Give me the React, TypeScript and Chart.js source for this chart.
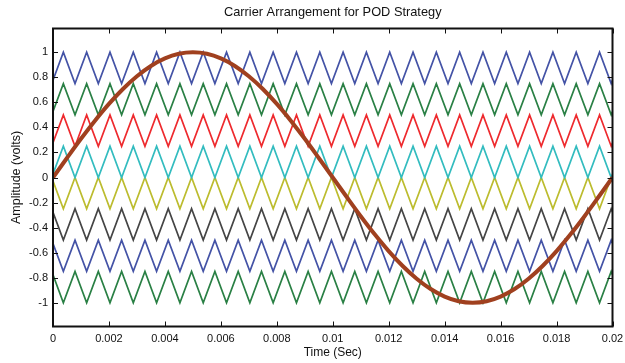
import React, { useEffect, useRef } from "react";
import { Chart, registerables } from "chart.js";

Chart.register(...registerables);

const chartTitle = "Carrier Arrangement for POD Strategy";
const xAxisTitle = "Time (Sec)";
const yAxisTitle = "Amplitude (volts)";

const xTickValues = [0, 0.002, 0.004, 0.006, 0.008, 0.01, 0.012, 0.014, 0.016, 0.018, 0.02];
const xTickLabels = ["0", "0.002", "0.004", "0.006", "0.008", "0.01", "0.012", "0.014", "0.016", "0.018", "0.02"];
const yTickValues = [1, 0.8, 0.6, 0.4, 0.2, 0, -0.2, -0.4, -0.6, -0.8, -1];
const yTickLabels = ["1", "0.8", "0.6", "0.4", "0.2", "0", "-0.2", "-0.4", "-0.6", "-0.8", "-1"];

// Carrier vertex times (s): start, alternating peak/trough of the upper carriers, end
const vertexTimes = [
  0,
  0.00037, 0.000787, 0.001203, 0.00162, 0.002037, 0.002453, 0.00287, 0.003287,
  0.003703, 0.00412, 0.004537, 0.004953, 0.00537, 0.005787, 0.006203, 0.00662,
  0.007037, 0.007453, 0.00787, 0.008287, 0.008703, 0.00912, 0.009537, 0.009953,
  0.01037, 0.010787, 0.011203, 0.01162, 0.012037, 0.012453, 0.01287, 0.013287,
  0.013703, 0.01412, 0.014537, 0.014953, 0.01537, 0.015787, 0.016203, 0.01662,
  0.017037, 0.017453, 0.01787, 0.018287, 0.018703, 0.01912, 0.019537, 0.019953,
  0.02,
];

// Position inside each carrier's band (0 = band bottom, 1 = band top)
const upperShape = [
  0.11,
  1, 0, 1, 0, 1, 0, 1, 0,
  1, 0, 1, 0, 1, 0, 1, 0,
  1, 0, 1, 0, 1, 0, 1, 0,
  1, 0, 1, 0, 1, 0, 1, 0,
  1, 0, 1, 0, 1, 0, 1, 0,
  1, 0, 1, 0, 1, 0, 1, 0,
  0.11,
];
const lowerShape = [
  0.89,
  0, 1, 0, 1, 0, 1, 0, 1,
  0, 1, 0, 1, 0, 1, 0, 1,
  0, 1, 0, 1, 0, 1, 0, 1,
  0, 1, 0, 1, 0, 1, 0, 1,
  0, 1, 0, 1, 0, 1, 0, 1,
  0, 1, 0, 1, 0, 1, 0, 1,
  0.89,
];

const carrierBottoms = [0.75, 0.5, 0.25, 0, -0.25, -0.5, -0.75, -1];
const carrierBandHeight = 0.25;
const carrierInPhaseGroup = ["upper", "upper", "upper", "upper", "lower", "lower", "lower", "lower"];
const carrierColors = ["#4453a6", "#2a8045", "#ee2a2e", "#33bcbf", "#bcbc2e", "#454545", "#4453a6", "#2a8045"];

// Reference (modulating) wave
const refTimes = [
  0, 0.0005, 0.001, 0.0015, 0.002, 0.0025, 0.003, 0.0035, 0.004, 0.0045,
  0.005, 0.0055, 0.006, 0.0065, 0.007, 0.0075, 0.008, 0.0085, 0.009, 0.0095,
  0.01, 0.0105, 0.011, 0.0115, 0.012, 0.0125, 0.013, 0.0135, 0.014, 0.0145,
  0.015, 0.0155, 0.016, 0.0165, 0.017, 0.0175, 0.018, 0.0185, 0.019, 0.0195,
  0.02,
];
const refValues = [
  0, 0.156, 0.309, 0.454, 0.588, 0.707, 0.809, 0.891, 0.951, 0.988,
  1, 0.988, 0.951, 0.891, 0.809, 0.707, 0.588, 0.454, 0.309, 0.156,
  0, -0.156, -0.309, -0.454, -0.588, -0.707, -0.809, -0.891, -0.951, -0.988,
  -1, -0.988, -0.951, -0.891, -0.809, -0.707, -0.588, -0.454, -0.309, -0.156,
  0,
];
const refColor = "#a0401f";

const FONT = "'Liberation Sans', Arial, sans-serif";

const boxPlugin = {
  id: "matlabBox",
  afterDatasetsDraw(chart: any) {
    const { ctx, chartArea: a, scales } = chart;
    ctx.save();
    ctx.strokeStyle = "#111";
    ctx.lineWidth = 1;
    const tl = 5;
    ctx.beginPath();
    for (const v of xTickValues) {
      const px = Math.round(scales.x.getPixelForValue(v)) + 0.5;
      ctx.moveTo(px, a.bottom);
      ctx.lineTo(px, a.bottom - tl);
      ctx.moveTo(px, a.top);
      ctx.lineTo(px, a.top + tl);
    }
    for (const v of yTickValues) {
      const py = Math.round(scales.y.getPixelForValue(v)) + 0.5;
      ctx.moveTo(a.left, py);
      ctx.lineTo(a.left + tl, py);
      ctx.moveTo(a.right, py);
      ctx.lineTo(a.right - tl, py);
    }
    ctx.stroke();
    ctx.lineWidth = 2;
    ctx.strokeStyle = "#111";
    ctx.strokeRect(a.left, a.top, a.right - a.left, a.bottom - a.top);

    ctx.fillStyle = "#111";
    ctx.textAlign = "center";
    ctx.textBaseline = "middle";
    ctx.font = `12.8px ${FONT}`;
    ctx.fillText(chartTitle, (a.left + a.right) / 2, 12);
    ctx.font = `12px ${FONT}`;
    ctx.fillText(xAxisTitle, (a.left + a.right) / 2, 353);
    ctx.translate(17, (a.top + a.bottom) / 2);
    ctx.rotate(-Math.PI / 2);
    ctx.font = `12.5px ${FONT}`;
    ctx.fillText(yAxisTitle, 0, 0);
    ctx.restore();
  },
};

export default function App() {
  const ref = useRef<HTMLCanvasElement | null>(null);

  useEffect(() => {
    if (!ref.current) return;

    const carrierDatasets = carrierBottoms.map((bottom, i) => {
      const shape = carrierInPhaseGroup[i] === "upper" ? upperShape : lowerShape;
      return {
        label: `Carrier ${i + 1}`,
        data: vertexTimes.map((t, j) => ({ x: t, y: bottom + carrierBandHeight * shape[j] })),
        borderColor: carrierColors[i],
        borderWidth: 1.7,
        pointRadius: 0,
        fill: false,
        tension: 0,
      };
    });

    const refDataset = {
      label: "Reference",
      data: refTimes.map((t, j) => ({ x: t, y: refValues[j] })),
      borderColor: refColor,
      borderWidth: 4,
      pointRadius: 0,
      fill: false,
      cubicInterpolationMode: "monotone" as const,
    };

    const chart = new Chart(ref.current, {
      type: "line",
      data: { datasets: [refDataset, ...carrierDatasets] as any },
      options: {
        animation: false,
        responsive: false,
        devicePixelRatio: 1,
        layout: { padding: { top: 28.5, right: 12.5, left: 0, bottom: 0 } },
        plugins: { legend: { display: false }, tooltip: { enabled: false }, title: { display: false } },
        scales: {
          x: {
            type: "linear",
            min: 0,
            max: 0.02,
            grid: { display: false, drawTicks: false, tickLength: 0 },
            border: { display: false },
            afterBuildTicks: (s: any) => {
              s.ticks = xTickValues.map((v) => ({ value: v }));
            },
            afterFit: (s: any) => {
              s.height = 363 - 326.5;
              s.paddingLeft = 0;
              s.paddingRight = 0;
            },
            ticks: {
              autoSkip: false,
              maxRotation: 0,
              padding: 6,
              color: "#111",
              font: { family: FONT, size: 11 },
              callback: (_v: any, i: number) => xTickLabels[i],
            },
          },
          y: {
            type: "linear",
            min: -1.19,
            max: 1.19,
            grid: { display: false, drawTicks: false, tickLength: 0 },
            border: { display: false },
            afterBuildTicks: (s: any) => {
              s.ticks = yTickValues.map((v) => ({ value: v }));
            },
            afterFit: (s: any) => {
              s.width = 53;
              s.paddingTop = 0;
              s.paddingBottom = 0;
            },
            ticks: {
              autoSkip: false,
              padding: 5,
              color: "#111",
              font: { family: FONT, size: 11 },
              callback: (_v: any, i: number) => yTickLabels[i],
            },
          },
        },
      },
      plugins: [boxPlugin],
    });

    return () => chart.destroy();
  }, []);

  return (
    <div style={{ position: "fixed", left: 0, top: 0, width: 625, height: 363, background: "#fff" }}>
      <canvas ref={ref} width={625} height={363} style={{ width: 625, height: 363 }} />
    </div>
  );
}
